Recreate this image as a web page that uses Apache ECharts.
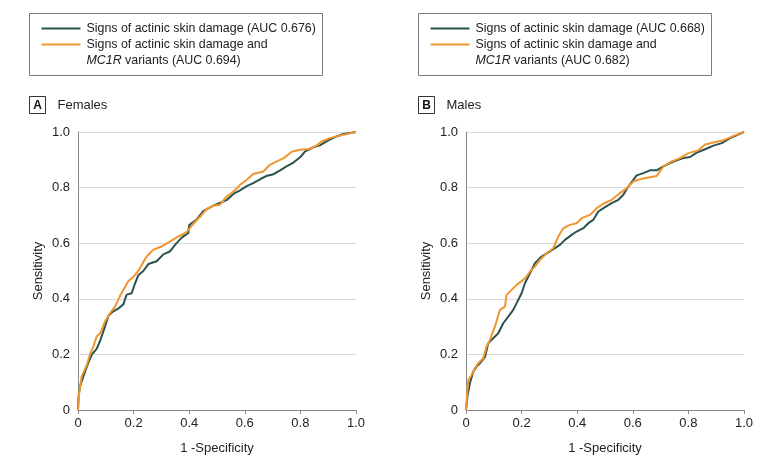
<!DOCTYPE html>
<html><head><meta charset="utf-8">
<script src="https://cdn.jsdelivr.net/npm/echarts@6/dist/echarts.min.js"></script>
<style>html,body{margin:0;padding:0;background:#fff}#c{width:780px;height:465px}</style>
</head><body><div id="c"></div>
<script>
// Females (panel A)
var femaleDamage = [[0,0],[0.002,0.05],[0.007,0.084],[0.019,0.12],[0.037,0.17],[0.05,0.2],[0.067,0.22],[0.08,0.25],[0.097,0.3],[0.11,0.34],[0.127,0.355],[0.145,0.365],[0.163,0.38],[0.175,0.415],[0.193,0.42],[0.205,0.455],[0.217,0.485],[0.235,0.5],[0.253,0.525],[0.283,0.535],[0.307,0.56],[0.33,0.57],[0.35,0.595],[0.373,0.62],[0.397,0.637],[0.40,0.665],[0.427,0.685],[0.45,0.715],[0.487,0.735],[0.51,0.745],[0.535,0.755],[0.56,0.778],[0.583,0.79],[0.607,0.805],[0.63,0.816],[0.655,0.83],[0.68,0.843],[0.70,0.847],[0.727,0.862],[0.75,0.876],[0.775,0.89],[0.80,0.91],[0.817,0.93],[0.846,0.945],[0.87,0.952],[0.90,0.97],[0.93,0.984],[0.955,0.993],[1,1]];
var femaleMC1R = [[0,0],[0.004,0.06],[0.013,0.12],[0.031,0.16],[0.043,0.2],[0.055,0.228],[0.067,0.264],[0.08,0.276],[0.097,0.318],[0.115,0.348],[0.133,0.372],[0.15,0.408],[0.17,0.444],[0.18,0.462],[0.2,0.48],[0.217,0.5],[0.229,0.522],[0.247,0.552],[0.27,0.576],[0.30,0.588],[0.33,0.606],[0.36,0.624],[0.39,0.639],[0.415,0.67],[0.44,0.696],[0.463,0.723],[0.487,0.735],[0.51,0.738],[0.535,0.768],[0.56,0.786],[0.583,0.81],[0.607,0.828],[0.63,0.849],[0.667,0.858],[0.69,0.882],[0.715,0.894],[0.74,0.906],[0.77,0.93],[0.80,0.936],[0.83,0.939],[0.858,0.951],[0.876,0.966],[0.906,0.978],[0.94,0.987],[1,1]];
// Males (panel B)
var maleDamage = [[0,0],[0.005,0.048],[0.014,0.096],[0.026,0.138],[0.038,0.156],[0.05,0.168],[0.068,0.19],[0.08,0.24],[0.098,0.258],[0.116,0.276],[0.134,0.312],[0.152,0.336],[0.17,0.36],[0.188,0.396],[0.2,0.42],[0.212,0.456],[0.23,0.492],[0.248,0.528],[0.272,0.552],[0.296,0.567],[0.32,0.582],[0.338,0.594],[0.356,0.612],[0.38,0.63],[0.398,0.642],[0.422,0.654],[0.44,0.672],[0.458,0.684],[0.476,0.714],[0.5,0.73],[0.524,0.744],[0.548,0.756],[0.566,0.774],[0.584,0.804],[0.614,0.844],[0.638,0.852],[0.662,0.862],[0.686,0.862],[0.71,0.876],[0.734,0.888],[0.758,0.898],[0.782,0.906],[0.806,0.91],[0.83,0.926],[0.86,0.938],[0.89,0.951],[0.92,0.96],[0.95,0.978],[1,1]];
var maleMC1R = [[0,0],[0.008,0.108],[0.02,0.126],[0.032,0.15],[0.044,0.168],[0.062,0.186],[0.074,0.228],[0.086,0.252],[0.104,0.3],[0.122,0.36],[0.14,0.372],[0.146,0.414],[0.164,0.432],[0.182,0.45],[0.206,0.468],[0.218,0.48],[0.23,0.498],[0.248,0.516],[0.266,0.54],[0.29,0.564],[0.314,0.582],[0.332,0.624],[0.35,0.654],[0.374,0.666],[0.398,0.672],[0.416,0.69],[0.446,0.702],[0.47,0.726],[0.494,0.742],[0.524,0.756],[0.554,0.78],[0.578,0.798],[0.602,0.822],[0.626,0.83],[0.656,0.836],[0.686,0.842],[0.71,0.876],[0.74,0.894],[0.77,0.906],[0.80,0.924],[0.836,0.934],[0.86,0.955],[0.89,0.962],[0.926,0.97],[0.962,0.986],[1,1]];

var panelTitles = ['Females', 'Males'];
var panelLetters = ['A', 'B'];
var aucDamage = ['0.676', '0.668'];
var aucMC1R = ['0.694', '0.682'];
var xAxisName = '1 -Specificity';
var yAxisName = 'Sensitivity';

var FONT = '"Liberation Sans Narrow", "Liberation Sans", sans-serif';
var GREEN = '#2a524e';
var ORANGE = '#f0962e';
var TXT = '#222';
var LEG_FS = 12.4;

var chart = echarts.init(document.getElementById('c'), null, {renderer: 'canvas'});

function fmt(v){ return v === 0 ? '0' : v.toFixed(1); }

var grids = [
  {left: 78, top: 132, width: 278, height: 278},
  {left: 466, top: 132, width: 278, height: 278}
];
var xAxes = [], yAxes = [];
for (var i = 0; i < 2; i++) {
  xAxes.push({
    type: 'value', gridIndex: i, min: 0, max: 1, interval: 0.2,
    name: xAxisName, nameLocation: 'middle', nameGap: 32,
    nameTextStyle: {fontFamily: FONT, fontSize: 13, color: TXT},
    axisLine: {show: true, lineStyle: {color: '#8a8a8a', width: 1}},
    axisTick: {show: true, length: 4, lineStyle: {color: '#8a8a8a'}},
    axisLabel: {formatter: fmt, fontFamily: FONT, fontSize: 13, color: TXT, margin: 7},
    splitLine: {show: false}
  });
  yAxes.push({
    type: 'value', gridIndex: i, min: 0, max: 1, interval: 0.2,
    name: yAxisName, nameLocation: 'middle', nameGap: 33, nameRotate: 90,
    nameTextStyle: {fontFamily: FONT, fontSize: 13, color: TXT},
    axisLine: {show: true, lineStyle: {color: '#8a8a8a', width: 1}},
    axisTick: {show: false},
    axisLabel: {formatter: fmt, fontFamily: FONT, fontSize: 13, color: TXT, margin: 8},
    splitLine: {show: true, lineStyle: {color: '#d8d8d8', width: 1}}
  });
}

function lineSeries(name, data, idx, color, z) {
  return {
    name: name, type: 'line', xAxisIndex: idx, yAxisIndex: idx, data: data,
    showSymbol: false, symbol: 'none', smooth: false, z: z,
    lineStyle: {color: color, width: 2}, itemStyle: {color: color},
    animation: false
  };
}

var series = [
  lineSeries('Signs of actinic skin damage (AUC ' + aucDamage[0] + ')', femaleDamage, 0, GREEN, 2),
  lineSeries('Signs of actinic skin damage and MC1R variants (AUC ' + aucMC1R[0] + ')', femaleMC1R, 0, ORANGE, 3),
  lineSeries('Signs of actinic skin damage (AUC ' + aucDamage[1] + ')', maleDamage, 1, GREEN, 2),
  lineSeries('Signs of actinic skin damage and MC1R variants (AUC ' + aucMC1R[1] + ')', maleMC1R, 1, ORANGE, 3)
];

function legendGraphic(x0, idx) {
  var textStyleBase = {fontFamily: FONT, fontSize: LEG_FS, fill: TXT};
  return {
    type: 'group', left: x0, top: 13,
    children: [
      {type: 'rect', shape: {x: 0, y: 0, width: 293, height: 62}, style: {fill: '#fff', stroke: '#7a7a7a', lineWidth: 1}},
      {type: 'line', shape: {x1: 12, y1: 15, x2: 51, y2: 15}, style: {stroke: GREEN, lineWidth: 2}},
      {type: 'line', shape: {x1: 12, y1: 31, x2: 51, y2: 31}, style: {stroke: ORANGE, lineWidth: 2}},
      {type: 'text', x: 57, y: 15, style: Object.assign({text: 'Signs of actinic skin damage (AUC ' + aucDamage[idx] + ')', verticalAlign: 'middle'}, textStyleBase)},
      {type: 'text', x: 57, y: 31, style: Object.assign({text: 'Signs of actinic skin damage and', verticalAlign: 'middle'}, textStyleBase)},
      {type: 'text', x: 57, y: 47, style: Object.assign({
        text: '{i|MC1R} variants (AUC ' + aucMC1R[idx] + ')', verticalAlign: 'middle',
        rich: {i: {fontStyle: 'italic', fontFamily: FONT, fontSize: LEG_FS, fill: TXT}}
      }, textStyleBase)}
    ]
  };
}

function panelLabel(x0, idx) {
  return {
    type: 'group', left: x0, top: 96,
    children: [
      {type: 'rect', shape: {x: 0, y: 0, width: 16, height: 17}, style: {fill: '#fff', stroke: '#333', lineWidth: 1}},
      {type: 'text', x: 8, y: 9, style: {text: panelLetters[idx], fontFamily: FONT, fontSize: 12, fontWeight: 'bold', fill: '#111', align: 'center', verticalAlign: 'middle'}},
      {type: 'text', x: 28, y: 9, style: {text: panelTitles[idx], fontFamily: FONT, fontSize: 13, fill: TXT, verticalAlign: 'middle'}}
    ]
  };
}

chart.setOption({
  animation: false,
  backgroundColor: '#fff',
  grid: grids,
  xAxis: xAxes,
  yAxis: yAxes,
  series: series,
  graphic: [legendGraphic(29, 0), legendGraphic(418, 1), panelLabel(29, 0), panelLabel(418, 1)]
});
</script>
</body></html>
